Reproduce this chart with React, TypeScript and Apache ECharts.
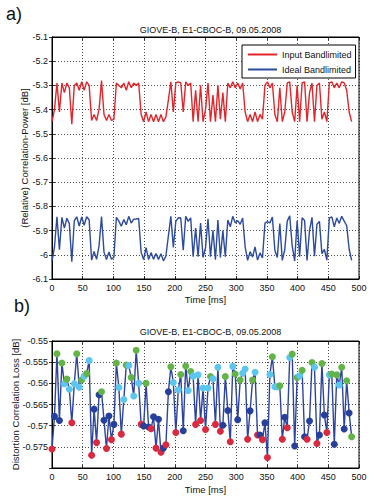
import React, { useEffect, useRef } from "react";
import * as echarts from "echarts";

const chartTitle = "GIOVE-B, E1-CBOC-B, 09.05.2008";
const topYName = "(Relative) Correlation-Power [dB]";
const bottomYName = "Distortion Correlation Loss [dB]";
const sampleStepMs = 4.033;

const inputBandlimited = [
  -5.45, -5.40, -5.29, -5.41, -5.29, -5.33, -5.29, -5.31, -5.46, -5.30,
  -5.29, -5.32, -5.285, -5.32, -5.285, -5.30, -5.445, -5.42, -5.445, -5.40,
  -5.28, -5.42, -5.445, -5.42, -5.445, -5.44, -5.29, -5.30, -5.31, -5.29,
  -5.32, -5.285, -5.31, -5.29, -5.30, -5.29, -5.42, -5.45, -5.41, -5.45,
  -5.42, -5.45, -5.42, -5.45, -5.42, -5.45, -5.43, -5.36, -5.285, -5.41,
  -5.29, -5.285, -5.29, -5.41, -5.285, -5.30, -5.29, -5.45, -5.32, -5.45,
  -5.30, -5.45, -5.40, -5.29, -5.45, -5.34, -5.45, -5.30, -5.44, -5.33,
  -5.45, -5.29, -5.31, -5.285, -5.31, -5.29, -5.315, -5.29, -5.41, -5.45,
  -5.42, -5.45, -5.41, -5.45, -5.42, -5.44, -5.30, -5.285, -5.31, -5.29,
  -5.42, -5.45, -5.31, -5.45, -5.41, -5.29, -5.285, -5.41, -5.45, -5.30,
  -5.45, -5.29, -5.285, -5.45, -5.33, -5.29, -5.45, -5.30, -5.29, -5.44,
  -5.41, -5.45, -5.29, -5.285, -5.31, -5.29, -5.31, -5.285, -5.29, -5.32,
  -5.41, -5.45,
];

const idealBandlimited = [
  -6.026, -5.968, -5.843, -5.979, -5.845, -5.890, -5.849, -5.871, -6.029, -5.860,
  -5.843, -5.881, -5.844, -5.878, -5.843, -5.855, -6.022, -5.986, -6.019, -5.963,
  -5.842, -5.989, -6.020, -5.988, -6.018, -6.010, -5.845, -5.861, -5.882, -5.854,
  -5.876, -5.841, -5.869, -5.853, -5.852, -5.850, -5.990, -6.020, -5.970, -6.020,
  -5.991, -6.018, -5.995, -6.019, -5.996, -6.025, -6.005, -5.922, -5.841, -5.970,
  -5.862, -5.847, -5.848, -5.981, -5.841, -5.862, -5.847, -6.008, -5.890, -6.008,
  -5.869, -6.011, -5.971, -5.851, -6.008, -5.899, -6.020, -5.856, -6.011, -5.900,
  -6.008, -5.856, -5.884, -5.841, -5.868, -5.859, -5.874, -5.848, -5.967, -6.023,
  -5.987, -6.009, -5.967, -6.022, -5.992, -6.013, -5.869, -5.863, -5.868, -5.844,
  -5.981, -6.011, -5.871, -6.023, -5.978, -5.861, -5.839, -5.963, -6.025, -5.859,
  -6.008, -5.847, -5.858, -6.023, -5.899, -5.845, -6.006, -5.874, -5.862, -5.995,
  -5.978, -6.022, -5.848, -5.843, -5.884, -5.848, -5.870, -5.841, -5.861, -5.879,
  -5.977, -6.023,
];

const distortionLoss = [
  -0.5755, -0.5678, -0.5530, -0.5688, -0.5552, -0.5601, -0.5590, -0.5614, -0.5693, -0.5601,
  -0.5530, -0.5609, -0.5592, -0.5583, -0.5577, -0.5546, -0.5770, -0.5661, -0.5740, -0.5627,
  -0.5620, -0.5687, -0.5754, -0.5677, -0.5733, -0.5697, -0.5552, -0.5610, -0.5720, -0.5638,
  -0.5557, -0.5558, -0.5586, -0.5630, -0.5522, -0.5600, -0.5697, -0.5701, -0.5600, -0.5703,
  -0.5707, -0.5679, -0.5753, -0.5685, -0.5763, -0.5753, -0.5745, -0.5620, -0.5561, -0.5598,
  -0.5716, -0.5615, -0.5579, -0.5712, -0.5559, -0.5617, -0.5572, -0.5583, -0.5697, -0.5580,
  -0.5688, -0.5611, -0.5709, -0.5611, -0.5584, -0.5589, -0.5697, -0.5562, -0.5713, -0.5699,
  -0.5584, -0.5664, -0.5738, -0.5560, -0.5578, -0.5686, -0.5592, -0.5576, -0.5566, -0.5732,
  -0.5665, -0.5592, -0.5574, -0.5722, -0.5722, -0.5733, -0.5693, -0.5775, -0.5579, -0.5537,
  -0.5608, -0.5608, -0.5606, -0.5732, -0.5680, -0.5705, -0.5539, -0.5531, -0.5748, -0.5586,
  -0.5582, -0.5569, -0.5726, -0.5732, -0.5689, -0.5551, -0.5562, -0.5742, -0.5722, -0.5553,
  -0.5675, -0.5716, -0.5580, -0.5578, -0.5744, -0.5580, -0.5604, -0.5562, -0.5708, -0.5594,
  -0.5670, -0.5726,
];

// marker class per loss sample: R red, B dark blue, C cyan, G green
const lossMarkerClass = (
  "RBGBGCGCRC" + "GCGCGCRBRB" + "GBRBRBGCRC" + "GCGCGCRBGB" + "RBRBRBRBGC" +
  "RCGBGCGCRC" + "RCRCGCRCRB" + "GBRCGBGCCR" + "BGCRBRBRCG" + "CCGRBRCGBG" +
  "CGBRBGCRBG" + "BRCGBGCGBG" + "BG"
).split("");

const markerColors: Record<string, string> = {
  R: "#d92a40",
  B: "#26409c",
  C: "#5cc6ef",
  G: "#63b447",
};

const FONT = "Liberation Sans, Arial, Helvetica, sans-serif";
const TXT = "#111";

export default function App() {
  const ref = useRef<HTMLDivElement>(null);

  useEffect(() => {
    if (!ref.current) return;
    const chart = echarts.init(ref.current, null, { renderer: "svg" });

    const split = { show: true, lineStyle: { color: "#222", type: [1, 2] as any, width: 0.8 } };
    const tick = { show: true, inside: true, length: 3, lineStyle: { color: "#000", width: 0.8 } };
    const axisLine = { show: true, lineStyle: { color: "#000", width: 1 } };
    const label = { fontSize: 9, color: TXT, fontFamily: FONT };
    const nameStyle = { fontSize: 9.5, color: TXT, fontFamily: FONT };

    const xMain = (gridIndex: number, gap: number) => ({
      gridIndex,
      type: "value",
      min: 0,
      max: 500,
      interval: 50,
      name: "Time [ms]",
      nameLocation: "middle",
      nameGap: gap,
      nameTextStyle: nameStyle,
      axisLine,
      axisTick: tick,
      axisLabel: { ...label, margin: 4 },
      splitLine: split,
    });
    const xTop = (gridIndex: number) => ({
      gridIndex,
      type: "value",
      position: "top",
      min: 0,
      max: 500,
      interval: 50,
      axisLine,
      axisTick: tick,
      axisLabel: { show: false },
      splitLine: { show: false },
    });
    const yRight = (gridIndex: number, min: number, max: number, interval: number) => ({
      gridIndex,
      type: "value",
      position: "right",
      min,
      max,
      interval,
      axisLine,
      axisTick: tick,
      axisLabel: { show: false },
      splitLine: { show: false },
    });

    const lossData = distortionLoss.map((v, i) => ({
      value: [i * sampleStepMs, v],
      itemStyle: { color: markerColors[lossMarkerClass[i]] },
    }));

    chart.setOption({
      animation: false,
      backgroundColor: "#fff",
      textStyle: { fontFamily: FONT },
      title: [
        {
          text: chartTitle,
          left: 205.5,
          top: 20,
          textAlign: "center",
          textStyle: { fontSize: 9, fontWeight: "normal", color: TXT, fontFamily: FONT },
        },
        {
          text: chartTitle,
          left: 205.5,
          top: 322,
          textAlign: "center",
          textStyle: { fontSize: 9, fontWeight: "normal", color: TXT, fontFamily: FONT },
        },
      ],
      legend: {
        data: ["Input Bandlimited", "Ideal Bandlimited"],
        orient: "vertical",
        left: 242,
        top: 45,
        backgroundColor: "#fff",
        borderColor: "#000",
        borderWidth: 1,
        borderRadius: 0,
        padding: [5, 4, 4, 6],
        itemGap: 6,
        itemWidth: 29,
        itemHeight: 2,
        icon: "rect",
        textStyle: { fontSize: 9, color: TXT, fontFamily: FONT },
      },
      graphic: [
        { type: "text", left: 6, top: 5, style: { text: "a)", fill: "#111", font: `18px ${FONT}` } },
        { type: "text", left: 14, top: 297, style: { text: "b)", fill: "#111", font: `18px ${FONT}` } },
        {
          type: "text",
          x: 24,
          y: 158,
          rotation: Math.PI / 2,
          style: { text: topYName, fill: TXT, font: `9.5px ${FONT}`, align: "center", verticalAlign: "middle" },
        },
        {
          type: "text",
          x: 15,
          y: 404.5,
          rotation: Math.PI / 2,
          style: { text: bottomYName, fill: TXT, font: `9.5px ${FONT}`, align: "center", verticalAlign: "middle" },
        },
      ],
      grid: [
        { left: 52, right: 22, top: 37, height: 242, show: true, borderColor: "#000", borderWidth: 1, backgroundColor: "#fff" },
        { left: 52, right: 22, top: 341, height: 127, show: true, borderColor: "#000", borderWidth: 1, backgroundColor: "#fff" },
      ],
      xAxis: [xMain(0, 15), xMain(1, 16), xTop(0), xTop(1)],
      yAxis: [
        {
          gridIndex: 0,
          type: "value",
          min: -6.1,
          max: -5.1,
          interval: 0.1,
          axisLine,
          axisTick: tick,
          axisLabel: { ...label, margin: 4 },
          splitLine: split,
        },
        {
          gridIndex: 1,
          type: "value",
          min: -0.58,
          max: -0.55,
          interval: 0.005,
          axisLine,
          axisTick: tick,
          axisLabel: { ...label, margin: 4, showMinLabel: false },
          splitLine: split,
        },
        yRight(0, -6.1, -5.1, 0.1),
        yRight(1, -0.58, -0.55, 0.005),
      ],
      series: [
        {
          name: "Input Bandlimited",
          type: "line",
          xAxisIndex: 0,
          yAxisIndex: 0,
          symbol: "none",
          color: "#e2252b",
          lineStyle: { color: "#e2252b", width: 1.4 },
          data: inputBandlimited.map((v, i) => [i * sampleStepMs, v]),
        },
        {
          name: "Ideal Bandlimited",
          type: "line",
          xAxisIndex: 0,
          yAxisIndex: 0,
          symbol: "none",
          color: "#2c4a9e",
          lineStyle: { color: "#2c4a9e", width: 1.4 },
          data: idealBandlimited.map((v, i) => [i * sampleStepMs, v]),
        },
        {
          name: "Distortion Loss",
          type: "line",
          xAxisIndex: 1,
          yAxisIndex: 1,
          symbol: "circle",
          symbolSize: 7,
          lineStyle: { color: "#2c43a0", width: 1.4 },
          itemStyle: { borderWidth: 0 },
          data: lossData,
        },
      ],
    });

    return () => chart.dispose();
  }, []);

  return (
    <div
      ref={ref}
      style={{ position: "absolute", left: 0, top: 0, width: 381, height: 498, background: "#fff" }}
    />
  );
}
